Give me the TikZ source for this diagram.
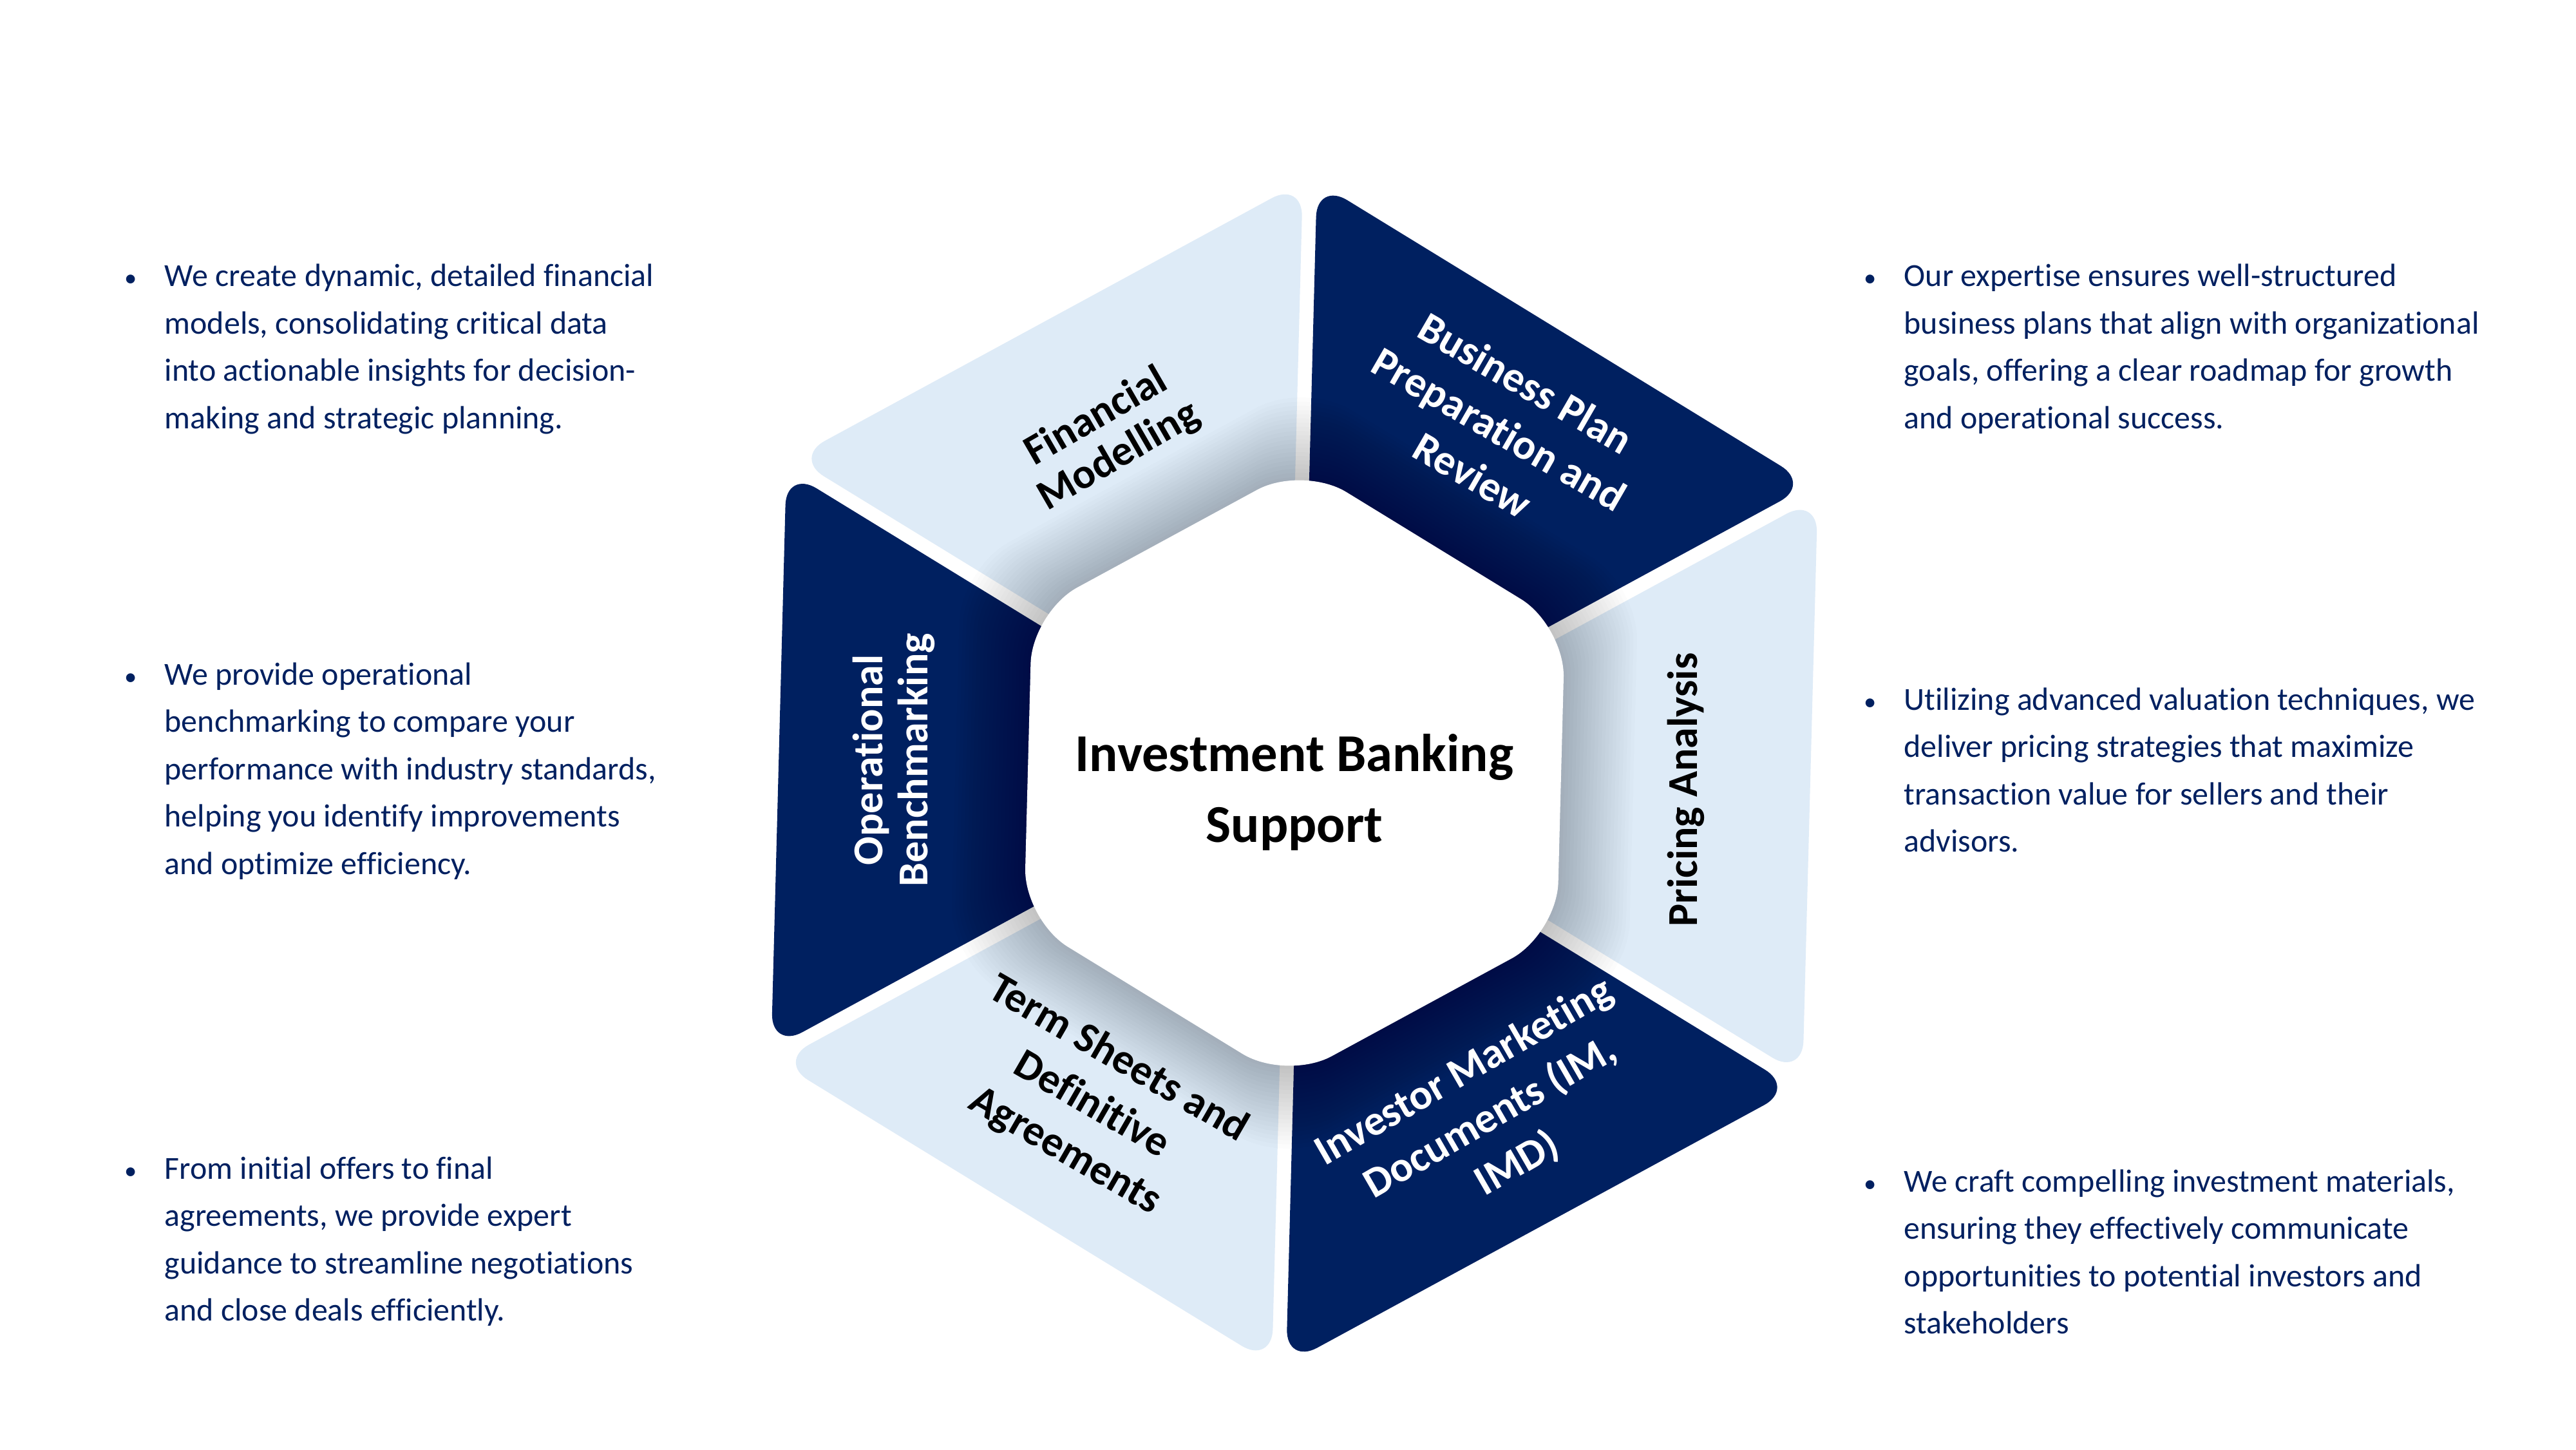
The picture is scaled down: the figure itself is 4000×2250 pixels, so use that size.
\documentclass[tikz,border=0pt]{standalone}
\usepackage{fontspec}
\setmainfont{Carlito}[Ligatures={NoCommon}]
\usetikzlibrary{calc}
\definecolor{navy}{HTML}{002060}
\definecolor{paleblue}{HTML}{DEEBF7}
\def\tilt{-1.5}
\def\Ro{925}
\def\Ri{478}
\newcommand\hexpath[1]{($(C)+(90+\tilt:#1)$) -- ($(C)+(150+\tilt:#1)$) -- ($(C)+(210+\tilt:#1)$) -- ($(C)+(270+\tilt:#1)$) -- ($(C)+(330+\tilt:#1)$) -- ($(C)+(30+\tilt:#1)$) -- cycle}
\newcommand\bulletblock[4]{%
  \node[bul] (#1) at (#2,#3) {\textbullet};
  \foreach \t [count=\i] in {#4} \node[btext] (#1-\i) at (#2+52, #3-73.5*\i+73.5) {\t};
}
\begin{document}
\begin{tikzpicture}[x=0.01cm,y=0.01cm,
  segdark/.style={fill=navy, rounded corners=0.55cm},
  seglight/.style={fill=paleblue, rounded corners=0.55cm},
  labfont/.style={font=\fontsize{18.8}{20}\selectfont\bfseries, align=center, inner sep=0pt},
  wide/.style={font=\fontsize{18.8}{23.5}\selectfont\bfseries},
  labdark/.style={labfont, text=white},
  lablight/.style={labfont, text=black},
  titletext/.style={font=\fontsize{23.5}{28}\selectfont\bfseries, text=black, anchor=base, inner sep=0pt},
  btext/.style={text=navy, font=\fontsize{14.2}{17}\selectfont, anchor=base west, inner sep=0pt},
  bul/.style={text=navy, font=\fontsize{11}{13}\selectfont, anchor=base, inner sep=0pt},
  shade/.style={fill=black, opacity=0.011, rounded corners=0.85cm}
]
\useasboundingbox (0,0) rectangle (4000,2250);
\fill[white] (0,0) rectangle (4000,2250);
\coordinate (C) at (2010,1050);

% segment corner points
\foreach \a/\n in {90/fm,150/ob,210/ts,270/im,330/pa,30/bp}{
  \coordinate (\n-A) at ($(C)+(\a+\tilt:\Ro)$);
  \coordinate (\n-B) at ($(C)+(\a+60+\tilt:\Ro)$);
  \coordinate (\n-1) at ($(\n-A)!0.0137!(\n-B)$);
  \coordinate (\n-2) at ($(\n-B)!0.0137!(\n-A)$);
  \coordinate (\n-3) at ($(C)+(\a+60+\tilt:380)+(\a-30+\tilt:11)$);
  \coordinate (\n-4) at ($(C)+(\a+\tilt:380)+(\a+90+\tilt:11)$);
}
\fill[seglight] (fm-1) -- (fm-2) -- (fm-3) -- (fm-4) -- cycle;
\fill[segdark]  (ob-1) -- (ob-2) -- (ob-3) -- (ob-4) -- cycle;
\fill[seglight] (ts-1) -- (ts-2) -- (ts-3) -- (ts-4) -- cycle;
\fill[segdark]  (im-1) -- (im-2) -- (im-3) -- (im-4) -- cycle;
\fill[seglight] (pa-1) -- (pa-2) -- (pa-3) -- (pa-4) -- cycle;
\fill[segdark]  (bp-1) -- (bp-2) -- (bp-3) -- (bp-4) -- cycle;

% soft shadow of the centre hexagon
\foreach \k in {1,...,20}{
  \fill[shade] \hexpath{\Ri+6.5*\k};
}
% centre hexagon
\fill[white, rounded corners=0.8cm] \hexpath{\Ri};

\node[titletext] (t1) at (2010,1053) {Investment Banking};
\node[titletext] (t2) at (2010,943) {Support};

% segment labels
\node[lablight, rotate=30]  (fm) at (1720,1572) {Financial\\Modelling};
\node[labdark, wide, rotate=-30] (bp) at (2328,1584) {Business Plan\\Preparation and\\Review};
\node[lablight, rotate=90]  (pa) at (2618,1024) {Pricing Analysis};
\node[labdark, wide, rotate=30]  (im) at (2315,514) {Investor Marketing\\Documents (IM,\\IMD)};
\node[lablight, wide, rotate=-30] (ts) at (1695,534) {Term Sheets and\\Definitive\\Agreements};
\node[labdark,  rotate=90]  (ob) at (1388,1070) {Operational\\Benchmarking};

% bullet texts
\bulletblock{lb1}{203}{1805}{{We create dynamic, detailed financial},{models, consolidating critical data},{into actionable insights for decision-},{making and strategic planning.}}
\bulletblock{lb2}{203}{1187}{{We provide operational},{benchmarking to compare your},{performance with industry standards,},{helping you identify improvements},{and optimize efficiency.}}
\bulletblock{lb3}{203}{420}{{From initial offers to final},{agreements, we provide expert},{guidance to streamline negotiations},{and close deals efficiently.}}
\bulletblock{rb1}{2904}{1805}{{Our expertise ensures well-structured},{business plans that align with organizational},{goals, offering a clear roadmap for growth},{and operational success.}}
\bulletblock{rb2}{2904}{1148}{{Utilizing advanced valuation techniques, we},{deliver pricing strategies that maximize},{transaction value for sellers and their},{advisors.}}
\bulletblock{rb3}{2904}{400}{{We craft compelling investment materials,},{ensuring they effectively communicate},{opportunities to potential investors and},{stakeholders}}
\end{tikzpicture}
\end{document}
